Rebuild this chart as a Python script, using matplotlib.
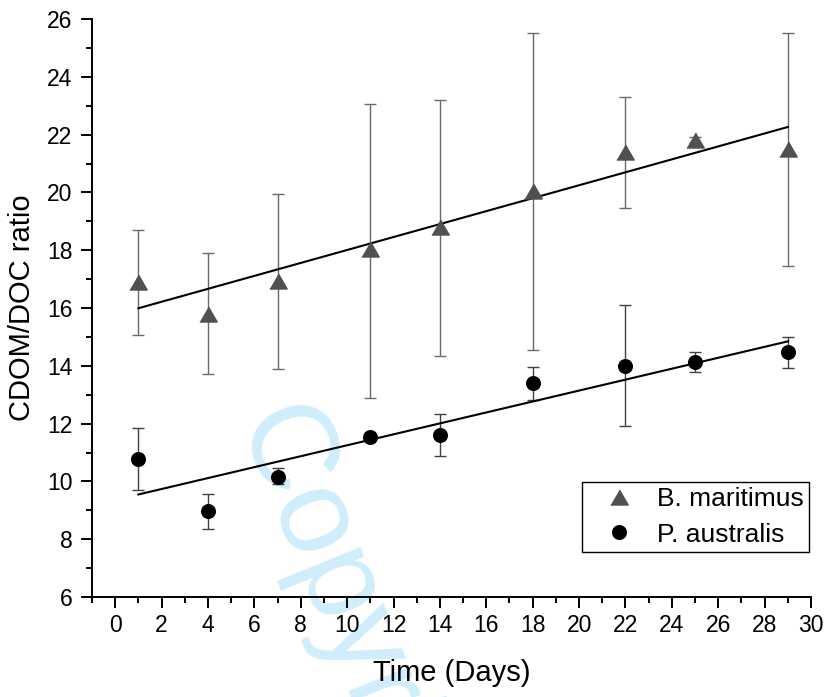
import numpy as np
import matplotlib
matplotlib.use("Agg")
import matplotlib.pyplot as plt

plt.rcParams['font.family'] = ['Liberation Sans', 'DejaVu Sans']

# Sampling days
days = [1, 4, 7, 11, 14, 18, 22, 25, 29]

# B. maritimus: mean, lower and upper error bar ends
bm_mean = [16.9, 15.8, 16.95, 18.05, 18.8, 20.05, 21.4, 21.8, 21.5]
bm_low = [15.05, 13.7, 13.9, 12.9, 14.35, 14.55, 19.45, 21.7, 17.45]
bm_high = [18.7, 17.9, 19.95, 23.05, 23.2, 25.5, 23.3, 21.9, 25.5]

# P. australis
pa_mean = [10.78, 8.97, 10.15, 11.52, 11.6, 13.4, 14.0, 14.12, 14.47]
pa_low = [9.7, 8.37, 9.9, 11.45, 10.88, 12.82, 11.9, 13.78, 13.93]
pa_high = [11.85, 9.58, 10.45, 11.6, 12.33, 13.97, 16.1, 14.47, 15.0]

x = np.array(days)
bm = np.array(bm_mean)
pa = np.array(pa_mean)

fig = plt.figure(figsize=(8.27, 6.97), dpi=100)
ax = fig.add_axes([92/827, 1-597/697, 719/827, (597-19)/697])
ax.patch.set_alpha(0)

# watermark behind everything
fig.text(362/827, 1-655/697, "Copyright", fontsize=88, color='#d0edfb',
         rotation=-68, ha='center', va='center', rotation_mode='anchor', zorder=-5)

tri = [(-1, -0.866), (1, -0.866), (0, 0.866)]

ax.errorbar(x, bm, yerr=[bm - np.array(bm_low), np.array(bm_high) - bm],
            fmt='none', ecolor='#6a6a6a', elinewidth=1.0, capsize=4.5, capthick=1.0, zorder=2)
ax.errorbar(x, pa, yerr=[pa - np.array(pa_low), np.array(pa_high) - pa],
            fmt='none', ecolor='#404040', elinewidth=1.0, capsize=4.5, capthick=1.0, zorder=2)

# linear fits
for yy in (bm, pa):
    k, b = np.polyfit(x, yy, 1)
    xs = np.array([x.min(), x.max()])
    ax.plot(xs, k*xs + b, color='black', lw=1.5, zorder=3)

ax.plot(x, bm, linestyle='none', marker=tri, ms=12.5, color='#505050', label='B. maritimus', zorder=4)
ax.plot(x, pa, linestyle='none', marker='o', ms=9.8, color='black', label='P. australis', zorder=4)

ax.set_xlim(-1, 30)
ax.set_ylim(6, 26)
ax.set_xticks(range(0, 31, 2))
ax.set_xticks(range(-1, 31, 2), minor=True)
ax.set_yticks(range(6, 27, 2))
ax.set_yticks(range(7, 26, 2), minor=True)

for s in ('top', 'right'):
    ax.spines[s].set_visible(False)
for s in ('left', 'bottom'):
    ax.spines[s].set_linewidth(1.4)

ax.tick_params(which='major', direction='out', length=8, width=1.4, labelsize=16.5)
ax.tick_params(which='minor', direction='out', length=4, width=1.4)
ax.tick_params(axis='x', pad=4)
ax.tick_params(axis='y', pad=6)

ax.set_xlabel('Time (Days)', fontsize=21, labelpad=16)
ax.set_ylabel('CDOM/DOC ratio', fontsize=21, labelpad=8)

leg = ax.legend(loc='lower right', bbox_to_anchor=(809/827, 1-552/697),
                bbox_transform=fig.transFigure, borderaxespad=0, fontsize=19,
                frameon=True, fancybox=False, edgecolor='black', framealpha=1,
                handlelength=2.4, handletextpad=0.25, borderpad=0.2, labelspacing=0.45)
leg.get_frame().set_linewidth(1.0)

fig.savefig('out.png', dpi=100)
